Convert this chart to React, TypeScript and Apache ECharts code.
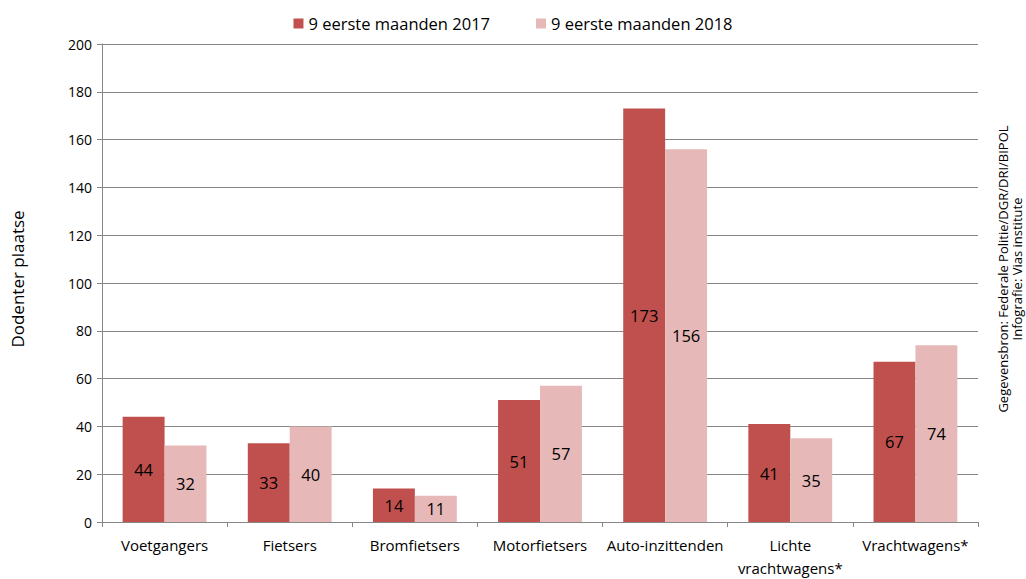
import React, { useEffect, useRef } from "react";
import * as echarts from "echarts";

const categories = [
  "Voetgangers",
  "Fietsers",
  "Bromfietsers",
  "Motorfietsers",
  "Auto-inzittenden",
  "Lichte\nvrachtwagens*",
  "Vrachtwagens*",
];
const series2017 = [44, 33, 14, 51, 173, 41, 67];
const series2018 = [32, 40, 11, 57, 156, 35, 74];
const seriesNames = ["9 eerste maanden 2017", "9 eerste maanden 2018"];
const yAxisName = "Dodenter plaatse";
const sourceLines = ["Gegevensbron: Federale Politie/DGR/DRI/BIPOL", "Infografie: Vias institute"];

const FONT = "'Open Sans', Lato, sans-serif";

export default function App() {
  const ref = useRef<HTMLDivElement>(null);
  useEffect(() => {
    if (!ref.current) return;
    const chart = echarts.init(ref.current, null, { renderer: "svg" });
    chart.setOption({
      animation: false,
      textStyle: { fontFamily: FONT, color: "#000" },
      legend: {
        top: 10,
        left: "center",
        itemWidth: 10,
        itemHeight: 10,
        itemGap: 46,
        icon: "rect",
        textStyle: { fontSize: 16.5, color: "#000", fontFamily: FONT },
        data: seriesNames,
      },
      grid: { left: 102, right: 48, top: 44, bottom: 52, containLabel: false },
      xAxis: {
        type: "category",
        data: categories,
        axisLine: { lineStyle: { color: "#868686" } },
        axisTick: { show: true, length: 5, lineStyle: { color: "#868686" } },
        axisLabel: { fontSize: 15, color: "#000", margin: 11, lineHeight: 23, interval: 0, fontFamily: FONT },
      },
      yAxis: {
        type: "value",
        min: 0,
        max: 200,
        interval: 20,
        name: yAxisName,
        nameLocation: "middle",
        nameGap: 76,
        nameTextStyle: { fontSize: 17, color: "#000", fontFamily: FONT, padding: [0, 0, 0, 8] },
        axisLine: { show: true, lineStyle: { color: "#868686" } },
        axisTick: { show: true, inside: false, length: 5, lineStyle: { color: "#868686" } },
        axisLabel: { fontSize: 14, color: "#000", margin: 10, fontFamily: FONT },
        splitLine: { lineStyle: { color: "#868686", width: 1 } },
      },
      series: [
        {
          name: seriesNames[0],
          type: "bar",
          data: series2017,
          itemStyle: { color: "#C0504D" },
          barGap: "0%",
          barCategoryGap: "33%",
          label: { show: true, position: "inside", fontSize: 16.5, color: "#000", fontFamily: FONT },
        },
        {
          name: seriesNames[1],
          type: "bar",
          data: series2018,
          itemStyle: { color: "#E6B9B8" },
          barGap: "0%",
          barCategoryGap: "33%",
          label: { show: true, position: "inside", fontSize: 16.5, color: "#000", fontFamily: FONT },
        },
      ],
      graphic: [
        {
          type: "text",
          x: 1010,
          y: 269,
          rotation: Math.PI / 2,
          style: {
            text: sourceLines.join("\n"),
            fontSize: 13,
            lineHeight: 14,
            fill: "#000",
            fontFamily: FONT,
            align: "center",
            verticalAlign: "middle",
          },
        },
      ],
    });
    return () => chart.dispose();
  }, []);
  return <div ref={ref} style={{ width: 1026, height: 579, position: "absolute", left: 0, top: 0 }} />;
}
